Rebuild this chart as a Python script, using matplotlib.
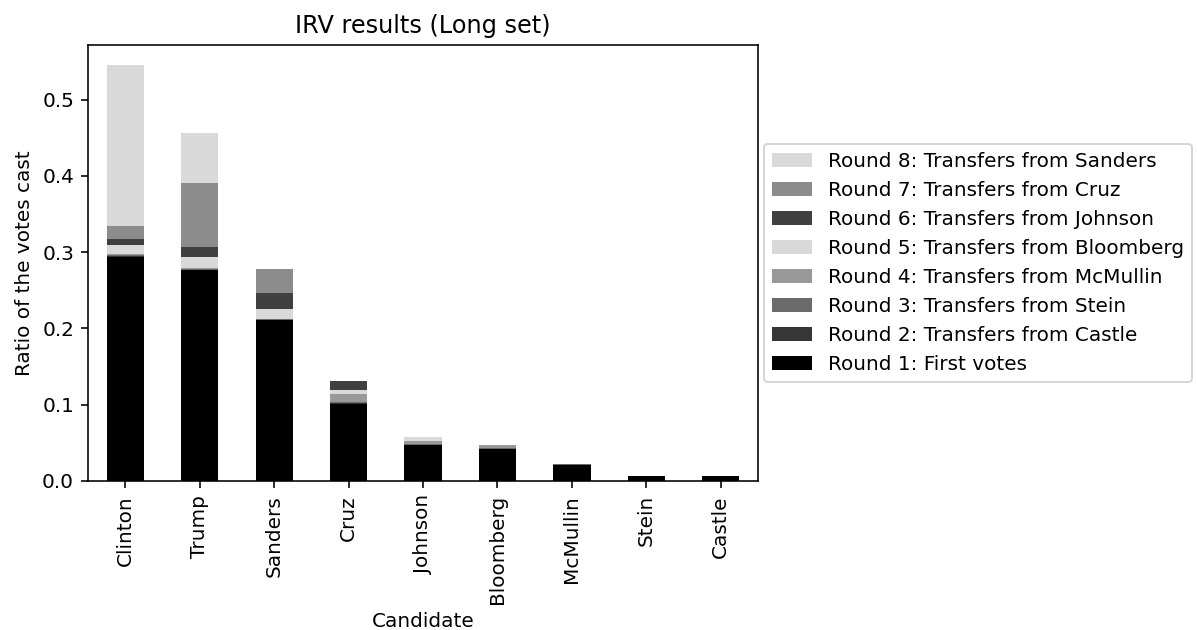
import numpy as np
import matplotlib
matplotlib.use("Agg")
import matplotlib.pyplot as plt

candidates = ["Clinton", "Trump", "Sanders", "Cruz", "Johnson",
              "Bloomberg", "McMullin", "Stein", "Castle"]

round_labels = [
    "Round 1: First votes",
    "Round 2: Transfers from Castle",
    "Round 3: Transfers from Stein",
    "Round 4: Transfers from McMullin",
    "Round 5: Transfers from Bloomberg",
    "Round 6: Transfers from Johnson",
    "Round 7: Transfers from Cruz",
    "Round 8: Transfers from Sanders",
]

# vote share added in each round, per candidate
round1 = [0.294, 0.276, 0.211, 0.1015, 0.047, 0.042, 0.021, 0.006, 0.006]
round2 = [0.001, 0.001, 0.0005, 0.0005, 0.0005, 0.0005, 0.0003, 0.0003, 0.0]
round3 = [0.001, 0.0005, 0.0005, 0.001, 0.0005, 0.0005, 0.0007, 0.0, 0.0]
round4 = [0.001, 0.0015, 0.001, 0.011, 0.005, 0.004, 0.0, 0.0, 0.0]
round5 = [0.013, 0.015, 0.013, 0.005, 0.005, 0.0, 0.0, 0.0, 0.0]
round6 = [0.007, 0.013, 0.021, 0.012, 0.0, 0.0, 0.0, 0.0, 0.0]
round7 = [0.017, 0.084, 0.031, 0.0, 0.0, 0.0, 0.0, 0.0, 0.0]
round8 = [0.211, 0.065, 0.0, 0.0, 0.0, 0.0, 0.0, 0.0, 0.0]

rounds = [round1, round2, round3, round4, round5, round6, round7, round8]
colors = ["#000000", "#363636", "#6b6b6b", "#999999",
          "#d9d9d9", "#404040", "#8c8c8c", "#d9d9d9"]

# 1197x630 px at 144 dpi
fig = plt.figure(figsize=(1197 / 144, 630 / 144), dpi=144)
ax = fig.add_axes([88 / 1197, 1 - 481 / 630, 670 / 1197, 436.5 / 630])

x = np.arange(len(candidates))
bottom = np.zeros(len(candidates))
for vals, lab, col in zip(rounds, round_labels, colors):
    ax.bar(x, vals, width=0.5, bottom=bottom, color=col, label=lab)
    bottom += np.array(vals)

ax.set_xlim(-0.5, len(candidates) - 0.5)
ax.set_ylim(0, bottom.max() * 1.05)
ax.set_xticks(x)
ax.set_xticklabels(candidates, rotation=90)
ax.set_xlabel("Candidate")
ax.set_ylabel("Ratio of the votes cast")
ax.set_title("IRV results (Long set)")

handles, labels = ax.get_legend_handles_labels()
ax.legend(handles[::-1], labels[::-1], loc="center left",
          bbox_to_anchor=(0.994, 0.5))

fig.savefig("out.png", dpi=144)
